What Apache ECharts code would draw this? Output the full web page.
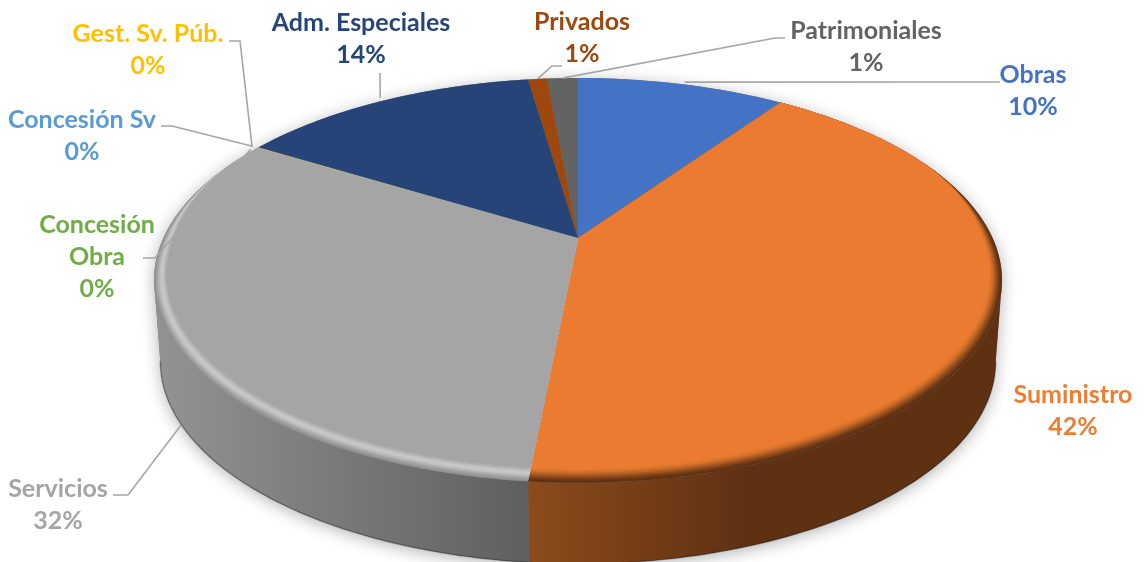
<!DOCTYPE html>
<html>
<head>
<meta charset="utf-8">
<style>html,body{margin:0;padding:0;background:#fff}#main{width:1147px;height:562px}</style>
<script src="https://cdn.jsdelivr.net/npm/echarts@6/dist/echarts.min.js"></script>
</head>
<body>
<div id="main"></div>
<script>
// values, clockwise from 12 o'clock
var names = ['Obras', 'Suministro', 'Servicios', 'Gest. Sv. Púb.', 'Concesión Sv', 'Concesión\nObra', 'Adm. Especiales', 'Privados', 'Patrimoniales'];
var values = [9.7, 41.82, 32.12, 0.05, 0.01, 0.01, 13.97, 0.88, 1.44];
var colors = ['#4472C4', '#EA7B31', '#A5A5A5', '#FFC000', '#5B9BD5', '#70AD47', '#264478', '#9E480E', '#636363'];

// label layout: text centre, then leader points (elbow, end), all in page pixels
var labelPos = [[1033, 91], [1073, 411], [58, 505], [148, 50], [82, 136], [97, 257], [361, 39], [582, 38], [866, 47]];
var leaders = [
    [[1000, 82]],
    null,
    [[128, 495], [113, 495]],
    [[240, 41], [229, 41]],
    [[172, 126], [161, 126]],
    [[155, 258], [143, 258]],
    [[380, 73]],
    [[552, 66], [562, 66]],
    [[775, 38], [785, 38]]
];
// small shifts of where a leader leaves the slice edge
var anchorNudge = { 0: [3, -2], 2: [12, 91], 3: [-6, -1], 4: [-6, -1], 5: [-8, 2], 6: [-3, -3] };

// rim colours outer -> inner, only the two front slices show a bevel
var rimRamps = {
    1: ['#5f3113', '#6c3815', '#84461a', '#a05620', '#bc6526', '#d4702b', '#e3782f', '#EA7B31'],
    2: ['#929292', '#a0a0a0', '#b2b2b2', '#c2c2c2', '#c8c8c8', '#bdbdbd', '#aeaeae', '#A5A5A5']
};
var wallFills = {
    1: [528, 745, '#8c4b1b', '#5f3113'],
    2: [155, 528, '#939393', '#5f5f5f']
};

// pie geometry, a circle seen in perspective
var cx = 578, cy = 238, rx = 414.6, ry = 193.5, persp = 0.2095;
var depth = 81, bottomScale = 0.985, bevel = 0.045;
// angles where the top face turns away, the wall only exists between them
var wallFrom = 102.1, wallTo = 257.9;

var total = values.reduce(function (a, b) { return a + b; }, 0);
var starts = [], acc = 0;
values.forEach(function (v) {
    starts.push(acc / total * 360);
    acc += v;
});

function project(deg, r) {
    var t = deg * Math.PI / 180;
    var x = r * Math.sin(t), y = -r * Math.cos(t);
    var w = 1 - persp * y;
    return [cx + rx * x / w, cy + ry * y / w];
}
function topEdge(deg) {
    return project(deg, 1);
}
function lower(deg) {
    var p = project(deg, 1);
    return [cx + (p[0] - cx) * bottomScale, p[1] + depth];
}
// bevel is widest at the front and gone at the back
function bevelWidth(deg) {
    var y = -Math.cos(deg * Math.PI / 180);
    if (y >= 0) return 0.55 + 0.45 * y;
    return Math.max(0, 0.55 * (1 + y / 0.4));
}
function sweep(from, to, fn) {
    var pts = [], n = Math.max(2, Math.ceil(to - from));
    for (var j = 0; j <= n; j++) pts.push(fn(from + (to - from) * j / n));
    return pts;
}

function renderBase() {
    return {
        type: 'polygon',
        silent: true,
        shape: { points: sweep(wallFrom, wallTo, lower).concat(sweep(wallTo, wallFrom + 360, topEdge)) },
        style: { fill: '#777', shadowBlur: 16, shadowColor: 'rgba(0,0,0,0.3)', shadowOffsetY: 3 }
    };
}

function renderWall(params, api) {
    var i = api.value(0);
    var a = Math.max(starts[i], wallFrom);
    var b = Math.min(starts[i] + api.value(1) / total * 360, wallTo);
    if (b <= a) return null;
    var top = sweep(a, b, topEdge);
    var bottom = sweep(a, b, lower);
    var w = wallFills[i];
    var fill = w ? {
        type: 'linear', global: true, x: w[0], y: 0, x2: w[1], y2: 0,
        colorStops: [{ offset: 0, color: w[2] }, { offset: 1, color: w[3] }]
    } : colors[i];
    return {
        type: 'group',
        children: [{
            type: 'polygon', silent: true,
            shape: { points: top.concat(bottom.slice().reverse()) },
            style: { fill: fill }
        }, {
            type: 'polyline', silent: true,
            shape: { points: bottom },
            style: { fill: null, stroke: 'rgba(0,0,0,0.3)', lineWidth: 1.5 }
        }]
    };
}

function renderFace(params, api) {
    var i = api.value(0);
    var a = starts[i], b = a + api.value(1) / total * 360;
    var ramp = rimRamps[i] || [colors[i]];
    var children = [];
    ramp.forEach(function (c, k) {
        var frac = ramp.length > 1 ? k / (ramp.length - 1) : 0;
        var arc = sweep(a, b, function (d) {
            return project(d, 1 - bevel * bevelWidth(d) * frac);
        });
        children.push({
            type: 'polygon', silent: true,
            shape: { points: [[cx, cy]].concat(arc) },
            style: { fill: c }
        });
    });
    return { type: 'group', children: children };
}

function renderLabel(params, api) {
    var i = api.value(0);
    var v = api.value(1);
    var mid = starts[i] + v / total * 180;
    var children = [];
    if (leaders[i]) {
        var anchor = project(mid, 1);
        var nudge = anchorNudge[i] || [0, 0];
        anchor = [anchor[0] + nudge[0], anchor[1] + nudge[1]];
        children.push({
            type: 'polyline', silent: true,
            shape: { points: [anchor].concat(leaders[i]) },
            style: { fill: null, stroke: '#A6A6A6', lineWidth: 1.6 }
        });
    }
    children.push({
        type: 'text', silent: true,
        x: labelPos[i][0], y: labelPos[i][1],
        style: {
            text: names[i] + '\n' + Math.round(v / total * 100) + '%',
            fill: colors[i] === '#EA7B31' ? '#ED7D31' : colors[i],
            font: 'bold 25px Lato, sans-serif',
            lineHeight: 32,
            align: 'center',
            verticalAlign: 'middle'
        }
    });
    return { type: 'group', children: children };
}

var sliceData = values.map(function (v, i) { return [i, v]; });

var mychart = echarts.init(document.getElementById('main'), null, { renderer: 'canvas' });
var option = {
    backgroundColor: '#fff',
    animation: false,
    series: [
        { type: 'custom', coordinateSystem: 'none', z: 1, renderItem: renderBase, data: [[0]] },
        { type: 'custom', coordinateSystem: 'none', z: 2, renderItem: renderWall, data: sliceData },
        { type: 'custom', coordinateSystem: 'none', z: 3, renderItem: renderFace, data: sliceData },
        { type: 'custom', coordinateSystem: 'none', z: 4, renderItem: renderLabel, data: sliceData }
    ]
};
mychart.setOption(option);
</script>
</body>
</html>
